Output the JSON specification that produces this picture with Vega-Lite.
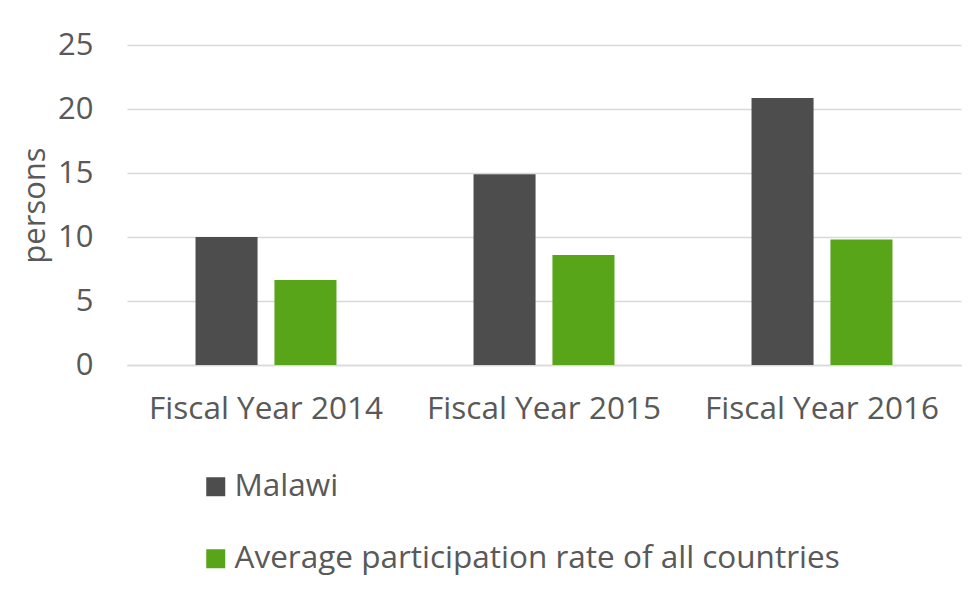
{
  "$schema": "https://vega.github.io/schema/vega-lite/v6.json",
  "autosize": {"type": "none"},
  "width": 834,
  "height": 320,
  "padding": {"left": 127, "top": 45, "right": 18, "bottom": 242},
  "background": "white",
  "data": {
    "values": [
      {"year": "Fiscal Year 2014", "series": "Malawi", "value": 10.0},
      {"year": "Fiscal Year 2014", "series": "Average participation rate of all countries", "value": 6.65},
      {"year": "Fiscal Year 2015", "series": "Malawi", "value": 14.9},
      {"year": "Fiscal Year 2015", "series": "Average participation rate of all countries", "value": 8.6},
      {"year": "Fiscal Year 2016", "series": "Malawi", "value": 20.85},
      {"year": "Fiscal Year 2016", "series": "Average participation rate of all countries", "value": 9.8}
    ]
  },
  "mark": {"type": "bar"},
  "encoding": {
    "x": {
      "field": "year", "type": "nominal",
      "scale": {"paddingInner": 0.493, "paddingOuter": 0.2465},
      "axis": {
        "title": null, "labelAngle": 0, "labelFont": "Open Sans", "labelFontSize": 31.5, "labelLimit": 0,
        "labelColor": "#595959", "labelPadding": 28, "ticks": false,
        "domain": true, "domainColor": "#d9d9d9", "domainWidth": 1.5
      }
    },
    "xOffset": {
      "field": "series", "type": "nominal",
      "sort": ["Malawi", "Average participation rate of all countries"],
      "scale": {"paddingInner": 0.214, "paddingOuter": 0}
    },
    "y": {
      "field": "value", "type": "quantitative",
      "scale": {"domain": [0, 25]},
      "axis": {
        "title": "persons", "titleFont": "Open Sans", "titleFontSize": 31, "titleFontWeight": "normal",
        "titleColor": "#595959", "titlePadding": 6,
        "values": [0, 5, 10, 15, 20, 25],
        "labelFont": "Open Sans", "labelFontSize": 31, "labelColor": "#595959", "labelPadding": 34,
        "ticks": false, "domain": false, "gridColor": "#d9d9d9", "gridWidth": 1.5
      }
    },
    "color": {
      "field": "series", "type": "nominal",
      "sort": ["Malawi", "Average participation rate of all countries"],
      "scale": {"domain": ["Malawi", "Average participation rate of all countries"], "range": ["#4d4d4d", "#59a519"]},
      "legend": {
        "title": null, "orient": "none", "legendX": 73, "legendY": 426,
        "direction": "vertical", "symbolType": "square", "symbolSize": 361,
        "symbolStrokeWidth": 0, "labelFont": "Open Sans", "labelFontSize": 31.5, "labelLimit": 0,
        "labelColor": "#595959", "rowPadding": 39, "labelOffset": 3
      }
    }
  },
  "config": {"view": {"stroke": null}}
}
